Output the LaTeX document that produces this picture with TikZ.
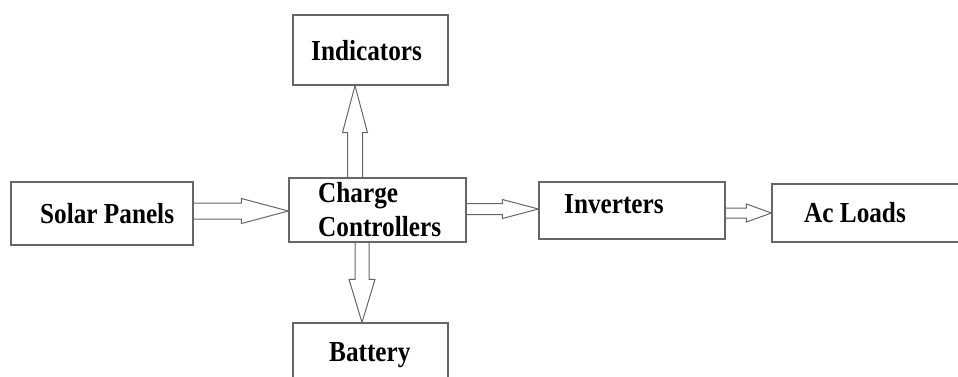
\documentclass[tikz,border=0pt]{standalone}
\usepackage{fontspec}
\newfontfamily\diagfont{Liberation Serif}[FakeStretch=0.87]
\usepackage{tikz}
\usetikzlibrary{positioning,calc}

% hollow block arrow: start, tip, shaft half width, head half width, head length
\newcommand{\blockarrow}[5]{%
  \coordinate (ba-s) at (#1);
  \coordinate (ba-t) at (#2);
  \coordinate (ba-h) at ($(ba-t)!#5!(ba-s)$);
  \draw[flow] ($(ba-s)!#3!90:(ba-t)$) -- ($(ba-h)!#3!-90:(ba-s)$)
    -- ($(ba-h)!#4!-90:(ba-s)$) -- (ba-t) -- ($(ba-h)!#4!90:(ba-s)$)
    -- ($(ba-h)!#3!90:(ba-s)$) -- ($(ba-s)!#3!-90:(ba-t)$);
}

\begin{document}
\begin{tikzpicture}[
        x=1pt, y=-1pt,
        box/.style={draw=black!60, line width=1.2pt, fill=white},
        lbl/.style={anchor=base west, inner sep=0pt, align=left,
            font=\diagfont\bfseries\fontsize{29}{34}\selectfont},
        flow/.style={draw=black!60, line width=1pt, line join=miter}
    ]
        \useasboundingbox (0,0) rectangle (958,376);
        \clip (0,0) rectangle (958,376);

        \node[box, minimum width=182pt, minimum height=63pt] (solar) at (102,213.5) {};
        \node[box, minimum width=177pt, minimum height=64pt] (cc) at (377.5,210) {};
        \node[box, minimum width=155pt, minimum height=70pt] (ind) at (370.5,50) {};
        \node[box, minimum width=155pt, minimum height=70pt] (bat) at (370.5,358) {};
        \node[box, minimum width=186pt, minimum height=57pt] (inv) at (632,210.5) {};
        \node[box, minimum width=260pt, minimum height=58pt] (ac) at (902,213) {};

        \node[lbl] (solar-t) at (40,223) {Solar Panels};
        \node[lbl, anchor=west] (cc-t) at (318,210) {Charge\\Controllers};
        \node[lbl] (ind-t) at (311,60) {Indicators};
        \node[lbl] (bat-t) at (329,361) {Battery};
        \node[lbl] (inv-t) at (564,213) {Inverters};
        \node[lbl] (ac-t) at (804,222) {Ac Loads};

        \blockarrow{solar.east |- 0,211}{cc.west |- 0,211}{8pt}{12.5pt}{47pt}
        \blockarrow{cc.north -| 355,0}{ind.south -| 355,0}{7.5pt}{12.5pt}{47pt}
        \blockarrow{cc.south -| 362,0}{bat.north -| 362,0}{7pt}{13pt}{43pt}
        \blockarrow{cc.east |- 0,209}{inv.west |- 0,209}{5.5pt}{9.5pt}{36pt}
        \blockarrow{inv.east |- 0,213}{ac.west |- 0,213}{5pt}{9pt}{25pt}
    \end{tikzpicture}
\end{document}
